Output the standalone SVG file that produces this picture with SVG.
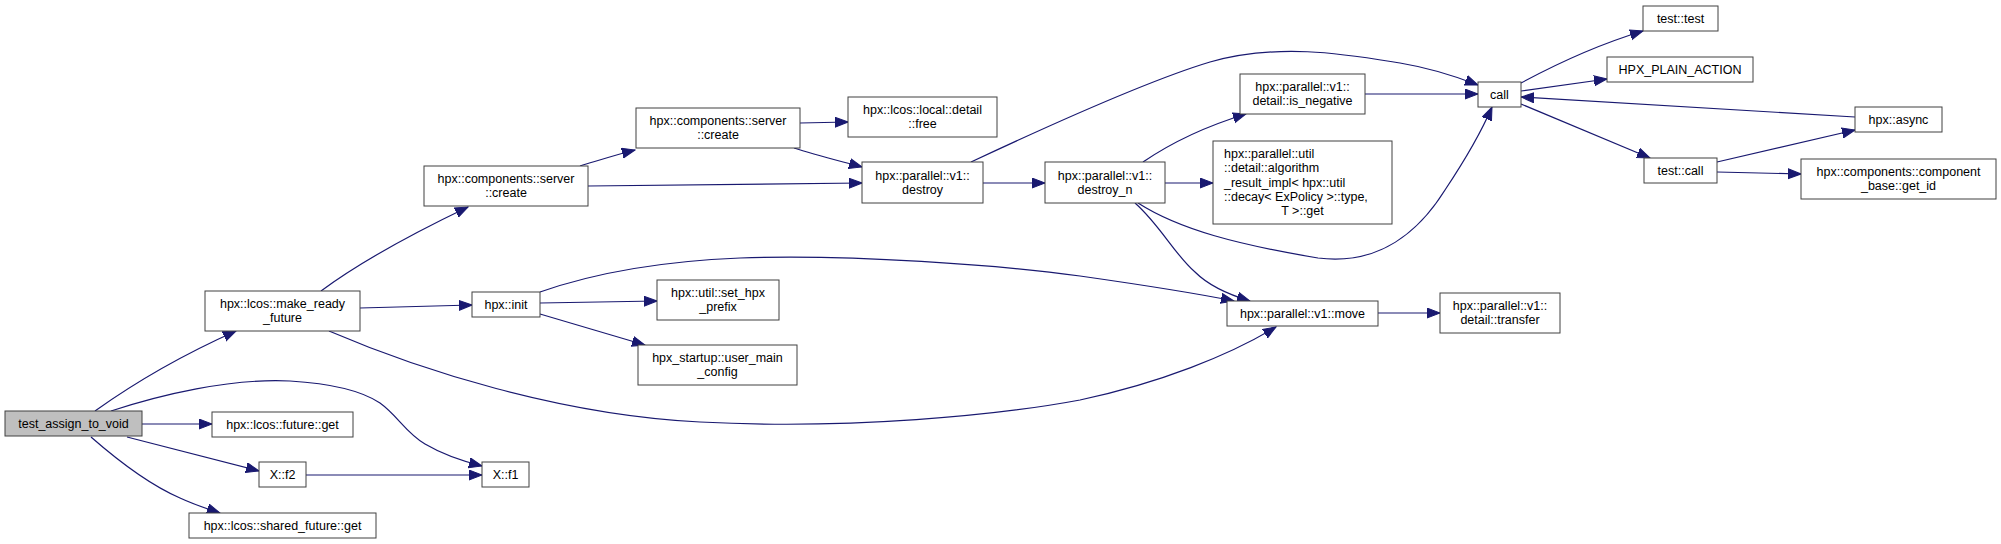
<svg xmlns="http://www.w3.org/2000/svg" width="2001" height="544" viewBox="0 0 2001 544">
<style>
.n rect{fill:#ffffff;stroke:#404040;stroke-width:1}
.n.root rect{fill:#bfbfbf}
.n text{font-family:"Liberation Sans",Arial,sans-serif;font-size:12.5px;fill:#000000;text-anchor:middle}
.n text.l{text-anchor:start}
#edges path{fill:none;stroke:#191970;stroke-width:1.2;marker-end:url(#ah)}
</style>
<defs>
<marker id="ah" markerUnits="userSpaceOnUse" markerWidth="14" markerHeight="12" refX="13" refY="5.5" orient="auto">
<path d="M0,0.5 L13,5.5 L0,10.5 z" fill="#191970" stroke="#191970" stroke-width="1"/>
</marker>
</defs>
<rect width="2001" height="544" fill="#ffffff"/>
<g id="edges">
<path d="M95,411 C130,386 180,356 236,331"/>
<path d="M111,411 C160,395 230,378 290,381 C340,384 365,393 380,403 C398,416 405,432 425,444 C442,454 462,461 482,466"/>
<path d="M142,424 L212,424"/>
<path d="M127,437 L259,471"/>
<path d="M91,437 C115,458 150,485 180,498 C195,505 208,509 220,513"/>
<path d="M306,475 L482,475"/>
<path d="M321,291 C360,262 420,230 468,207"/>
<path d="M360,308 L472,305"/>
<path d="M329,331 C420,370 560,415 700,422 C850,430 1000,415 1080,400 C1160,383 1230,355 1276,327"/>
<path d="M580,166 C600,160 615,155 635,150"/>
<path d="M588,186 L862,183"/>
<path d="M800,123 L848,122"/>
<path d="M794,148 C815,155 840,161 862,167"/>
<path d="M983,183 L1045,183"/>
<path d="M971,162 C1050,125 1150,80 1210,62 C1280,42 1350,55 1400,63 C1430,68 1455,76 1478,85"/>
<path d="M1143,162 C1165,147 1200,128 1246,114"/>
<path d="M1165,183 L1213,183"/>
<path d="M1138,203 C1180,230 1240,245 1318,258 C1380,266 1420,230 1445,190 C1465,160 1480,135 1492,107"/>
<path d="M1135,203 C1160,225 1175,255 1195,272 C1210,287 1230,295 1250,301"/>
<path d="M540,292 C580,278 640,262 740,258 C850,254 1000,265 1080,276 C1150,286 1200,294 1234,301"/>
<path d="M540,303 L657,301"/>
<path d="M540,314 L645,345"/>
<path d="M1365,94 L1478,94"/>
<path d="M1521,83 C1560,62 1600,44 1643,31"/>
<path d="M1521,91 L1607,79"/>
<path d="M1855,117 L1521,97"/>
<path d="M1521,104 L1650,158"/>
<path d="M1717,162 L1855,130"/>
<path d="M1717,172 L1801,174"/>
<path d="M1378,313 L1440,313"/>
</g>
<g id="n_test_assign_to_void" class="n root"><rect x="5" y="411" width="137" height="25"/><text x="73.5" y="428">test_assign_to_void</text></g>
<g id="n_make_ready_future" class="n"><rect x="205" y="291" width="155" height="40"/><text x="282.5" y="308">hpx::lcos::make_ready</text><text x="282.5" y="322">_future</text></g>
<g id="n_future_get" class="n"><rect x="212" y="412" width="141" height="25"/><text x="282.5" y="429">hpx::lcos::future::get</text></g>
<g id="n_xf2" class="n"><rect x="259" y="462" width="47" height="25"/><text x="282.5" y="479">X::f2</text></g>
<g id="n_xf1" class="n"><rect x="482" y="462" width="47" height="25"/><text x="505.5" y="479">X::f1</text></g>
<g id="n_shared_future_get" class="n"><rect x="189" y="513" width="187" height="25"/><text x="282.5" y="530">hpx::lcos::shared_future::get</text></g>
<g id="n_server_create_a" class="n"><rect x="424" y="166" width="164" height="40"/><text x="506" y="183">hpx::components::server</text><text x="506" y="197">::create</text></g>
<g id="n_server_create_b" class="n"><rect x="636" y="108" width="164" height="40"/><text x="718" y="125">hpx::components::server</text><text x="718" y="139">::create</text></g>
<g id="n_hpx_init" class="n"><rect x="472" y="292" width="68" height="25"/><text x="506" y="309">hpx::init</text></g>
<g id="n_set_hpx_prefix" class="n"><rect x="657" y="280" width="122" height="40"/><text x="718" y="297">hpx::util::set_hpx</text><text x="718" y="311">_prefix</text></g>
<g id="n_user_main_config" class="n"><rect x="638" y="345" width="159" height="40"/><text x="717.5" y="362">hpx_startup::user_main</text><text x="717.5" y="376">_config</text></g>
<g id="n_free" class="n"><rect x="848" y="97" width="149" height="40"/><text x="922.5" y="114">hpx::lcos::local::detail</text><text x="922.5" y="128">::free</text></g>
<g id="n_destroy" class="n"><rect x="862" y="162" width="121" height="41"/><text x="922.5" y="179.5">hpx::parallel::v1::</text><text x="922.5" y="193.5">destroy</text></g>
<g id="n_destroy_n" class="n"><rect x="1045" y="162" width="120" height="41"/><text x="1105" y="179.5">hpx::parallel::v1::</text><text x="1105" y="193.5">destroy_n</text></g>
<g id="n_is_negative" class="n"><rect x="1240" y="74" width="125" height="40"/><text x="1302.5" y="91">hpx::parallel::v1::</text><text x="1302.5" y="105">detail::is_negative</text></g>
<g id="n_algorithm_result" class="n"><rect x="1213" y="141" width="179" height="83"/><text class="l" x="1224" y="158">hpx::parallel::util</text><text class="l" x="1224" y="172">::detail::algorithm</text><text class="l" x="1224" y="186.5">_result_impl&lt; hpx::util</text><text class="l" x="1224" y="200.5">::decay&lt; ExPolicy &gt;::type,</text><text x="1302.5" y="215">T &gt;::get</text></g>
<g id="n_call" class="n"><rect x="1478" y="82" width="43" height="25"/><text x="1499.5" y="99">call</text></g>
<g id="n_test_test" class="n"><rect x="1643" y="6" width="75" height="25"/><text x="1680.5" y="23">test::test</text></g>
<g id="n_hpx_plain_action" class="n"><rect x="1607" y="57" width="146" height="25"/><text x="1680" y="74">HPX_PLAIN_ACTION</text></g>
<g id="n_hpx_async" class="n"><rect x="1855" y="107" width="87" height="25"/><text x="1898.5" y="124">hpx::async</text></g>
<g id="n_test_call" class="n"><rect x="1644" y="158" width="73" height="25"/><text x="1680.5" y="175">test::call</text></g>
<g id="n_get_id" class="n"><rect x="1801" y="159" width="195" height="40"/><text x="1898.5" y="176">hpx::components::component</text><text x="1898.5" y="190">_base::get_id</text></g>
<g id="n_move" class="n"><rect x="1227" y="301" width="151" height="25"/><text x="1302.5" y="318">hpx::parallel::v1::move</text></g>
<g id="n_transfer" class="n"><rect x="1440" y="293" width="120" height="40"/><text x="1500" y="310">hpx::parallel::v1::</text><text x="1500" y="324">detail::transfer</text></g>
</svg>
